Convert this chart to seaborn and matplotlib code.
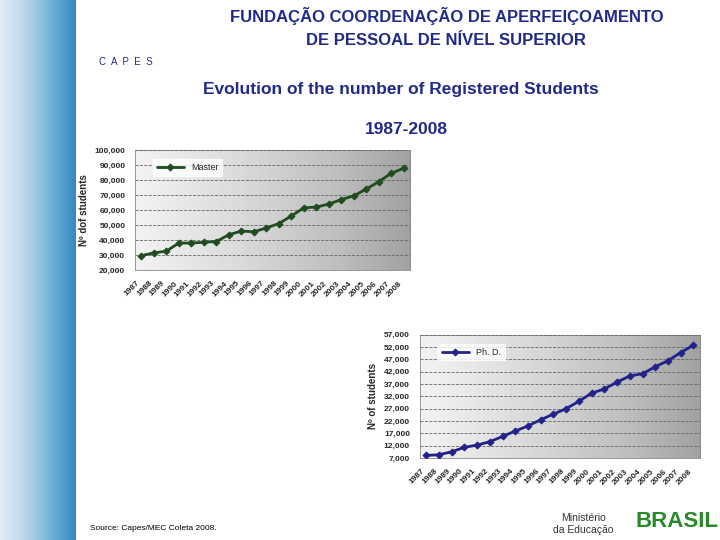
import matplotlib
matplotlib.use("Agg")
import matplotlib.pyplot as plt
import seaborn as sns
import numpy as np
import pandas as pd
from matplotlib.ticker import FuncFormatter, FixedLocator

sns.set_style("white")
plt.rcParams['font.family'] = ['Liberation Sans', 'DejaVu Sans']

years = list(range(1987, 2009))
master = [29500, 31500, 32500, 38000, 38000, 38500, 39000, 43500, 46000, 45500, 48000,
          51000, 56000, 61500, 62000, 64000, 67000, 69500, 74000, 79000, 84500, 88000]
phd = [8000, 8300, 9500, 11300, 12200, 13600, 15700, 17900, 20000, 22500, 24800,
       27000, 30000, 33300, 35000, 37800, 40300, 41200, 44000, 46500, 49800, 52800]
df = pd.DataFrame({"year": years, "Master": master, "Ph. D.": phd})

fig = plt.figure(figsize=(7.2, 5.4), dpi=100)
fig.patch.set_facecolor("white")

# left decorative strip
strip = fig.add_axes([0, 0, 0.105, 1])
grad = np.linspace(0, 1, 256).reshape(1, -1)
strip.imshow(grad, aspect="auto", cmap="Blues", vmin=-0.2, vmax=1.6, extent=[0, 1, 0, 1])
strip.axis("off")

fig.text(0.62, 0.97, "FUNDAÇÃO COORDENAÇÃO DE APERFEIÇOAMENTO", ha="center", va="center",
         fontsize=12, color="#1f2a8a", fontweight="bold")
fig.text(0.62, 0.925, "DE PESSOAL DE NÍVEL SUPERIOR", ha="center", va="center",
         fontsize=12, color="#1f2a8a", fontweight="bold")
fig.text(0.175, 0.885, "C  A  P  E  S", ha="center", va="center", fontsize=7, color="#1f2a8a")
fig.text(0.557, 0.835, "Evolution of the number of Registered Students", ha="center", va="center",
         fontsize=12.5, color="#1f2a8a", fontweight="bold")
fig.text(0.565, 0.76, "1987-2008", ha="center", va="center",
         fontsize=12.5, color="#1f2a8a", fontweight="bold")
fig.text(0.125, 0.018, "Source: Capes/MEC Coleta 2008.", fontsize=6, color="black")
fig.text(0.81, 0.03, "Ministério\nda Educação", fontsize=7.5, color="#333333", ha="center", va="center")
fig.text(0.94, 0.035, "BRASIL", fontsize=16, color="#2a8a2a", fontweight="bold", ha="center", va="center")

def panel(rect, col, color, ylim, ticks, ylabel):
    ax = fig.add_axes(rect)
    g = np.linspace(0, 1, 256).reshape(1, -1)
    ax.imshow(g, aspect="auto", cmap="Greys", vmin=-0.3, vmax=2.5,
              extent=[-0.5, len(years) - 0.5, ylim[0], ylim[1]], zorder=0)
    sns.lineplot(x=np.arange(len(years)), y=df[col], ax=ax, color=color, marker="D",
                 markersize=3.5, linewidth=2, label=col, zorder=3, markeredgecolor=color)
    ax.set_xlim(-0.5, len(years) - 0.5)
    ax.set_ylim(*ylim)
    ax.yaxis.set_major_locator(FixedLocator(ticks))
    ax.yaxis.set_major_formatter(FuncFormatter(lambda v, p: f"{int(v):,}"))
    ax.set_xticks(np.arange(len(years)))
    ax.set_xticklabels([str(y) for y in years], rotation=45, ha="right", fontsize=6, fontweight="bold")
    ax.tick_params(axis="y", labelsize=6)
    for t in ax.get_yticklabels():
        t.set_fontweight("bold")
    ax.grid(axis="y", color="#666666", linestyle="--", linewidth=0.6)
    ax.set_axisbelow(False)
    ax.set_xlabel("")
    ax.set_ylabel(ylabel, fontsize=7, fontweight="bold")
    for s in ax.spines.values():
        s.set_color("#888888")
        s.set_linewidth(0.6)
    ax.legend(loc="upper left", bbox_to_anchor=(0.05, 0.96), fontsize=6.5, frameon=True,
              fancybox=False, edgecolor="white", handlelength=3)
    return ax

panel([0.1875, 0.5, 0.382, 0.222], "Master", "#1f4d1f", (20000, 100000),
      list(range(20000, 100001, 10000)), "Nº dof students")
panel([0.583, 0.152, 0.389, 0.228], "Ph. D.", "#22228a", (7000, 57000),
      list(range(7000, 57001, 5000)), "Nº of students")

fig.savefig("out.png", dpi=100)
